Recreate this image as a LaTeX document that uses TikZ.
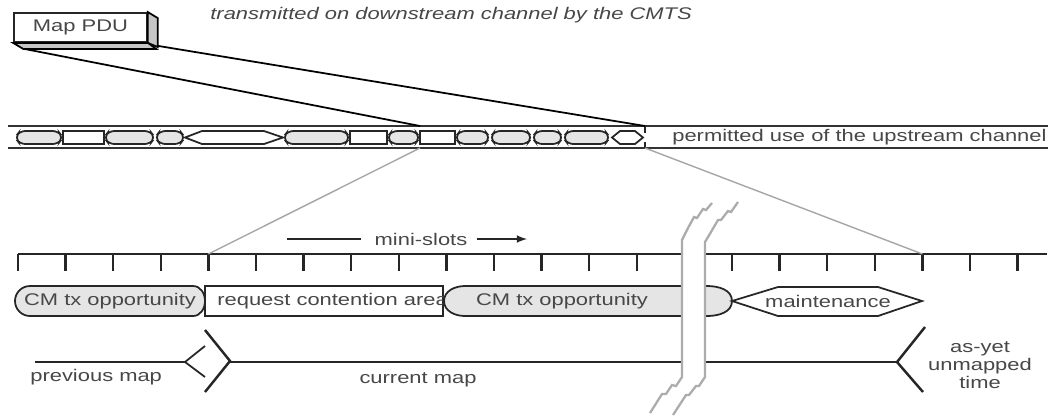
\documentclass[tikz,border=0pt]{standalone}
\usepackage{fontspec}
\setmainfont[FakeStretch=1.3]{Liberation Sans}
\usetikzlibrary{arrows,calc,positioning}

\tikzset{
  lbl/.style={font=\fontsize{9.6}{10.2}\selectfont, text=black!72, inner sep=0pt},
  chanline/.style={black!80, line width=1.3pt},
  slotline/.style={black!85, line width=1pt},
  greyslot/.style={slotline, fill=gray!20},
  whiteslot/.style={slotline, fill=white},
  tickline/.style={black!85, line width=1.4pt},
  zoomline/.style={gray!70, line width=0.8pt},
  breakline/.style={gray!65, line width=1.3pt},
}

\begin{document}
\begin{tikzpicture}[x=0.02cm,y=-0.02cm]
       \useasboundingbox (0,0) rectangle (1057,417);
       % Map PDU block
       \node[draw=black!85,line width=1pt,fill=white,minimum width=2.66cm,minimum height=0.58cm,lbl] (pdu) at (80.5,27.5) {Map PDU};
       \draw[line width=1pt,fill=gray!45] (pdu.north east) -- ++(10,6) -- ++(0,29) -- (pdu.south east) -- cycle;
       \draw[line width=1pt,fill=gray!45] (pdu.south west) -- ++(10,6) -- ++(133,0) -- (pdu.south east) -- cycle;
       \node[lbl,font=\fontsize{9.6}{10.2}\selectfont\itshape,anchor=west] (txt) at (210,15) {transmitted on downstream channel by the CMTS};
       \coordinate (pduL) at ($(pdu.south west)+(11,6)$);
       \coordinate (pduR) at ($(pdu.south east)+(10,3)$);
       % upstream channel
       \draw[chanline] (8,126) -- (1048,126);
       \draw[chanline] (8,148) -- (1048,148);
       \foreach \a/\b in {63/104,350/387,420/455}
         \draw[whiteslot] (\a,131) rectangle (\b,144);
       \foreach \a/\b in {15/63,104/155,155/185,283/350,387/420,455/490,490/532,532/563,563/610}
         \draw[greyslot,rounded corners=3pt] (\a,137.5) -- (\a+5,131) -- (\b-5,131) -- (\b,137.5) -- (\b-5,144) -- (\a+5,144) -- cycle;
       \draw[whiteslot] (185,137.5) -- (202,131) -- (264,131) -- (283,137.5) -- (264,144) -- (202,144) -- cycle;
       \draw[whiteslot] (612,137.5) -- (620,131) -- (635,131) -- (643,137.5) -- (635,144) -- (620,144) -- cycle;
       \draw[slotline] (645,126) -- (645,133) (645,142) -- (645,148);
       \node[lbl,anchor=west] (perm) at (672,137.5) {permitted use of the upstream channel};
       \coordinate (reqT) at (420,126);
       \coordinate (reqB) at (420,148);
       \coordinate (endT) at (645,126);
       \coordinate (endB) at (645,148);
       \draw[line width=1pt] (pduL) -- (reqT);
       \draw[line width=1pt] (pduR) -- (endT);
       % mini-slot scale
       \draw[slotline] (18,254) -- (1047,254);
       \foreach \k in {0,...,21}
         \coordinate (t\k) at (18+47.6*\k,254);
       \foreach \k in {0,...,21}
         \draw[tickline] (t\k) -- ++(0,17);
       \draw[zoomline] (reqB) -- (t4);
       \draw[zoomline] (endB) -- (t19);
       \node[lbl] (mini) at (421,239) {mini-slots};
       \coordinate (msL) at (287,239);
       \coordinate (msR) at (527,239);
       \draw[slotline] (msL) -- ($(mini.west)+(-13,0)$);
       \draw[slotline,-latex] ($(mini.east)+(9,0)$) -- (msR);
       % map contents
       \draw[greyslot] (30,286) -- (193,286) to[out=0,in=90] (205,301) to[out=-90,in=0] (193,316) -- (30,316) to[out=180,in=-90] (15,301) to[out=90,in=180] (30,286) -- cycle;
       \node[lbl] (cm1) at (110,301) {CM tx opportunity};
       \draw[whiteslot] (205,286) rectangle (443,316);
       \node[lbl,anchor=west] (req) at (217,301) {request contention area};
       \draw[greyslot] (465,286) -- (707,286) to[out=0,in=90] (732,301) to[out=-90,in=0] (707,316) -- (465,316) to[out=180,in=-90] (444,301) to[out=90,in=180] (465,286) -- cycle;
       \node[lbl] (cm2) at (562,301) {CM tx opportunity};
       \draw[whiteslot] (732,301) -- (778,287) -- (878,287) -- (922,301) -- (878,316) -- (778,316) -- cycle;
       \node[lbl] (maint) at (828,301) {maintenance};
       % map boundaries
       \draw[slotline] (35,362) -- (185,362);
       \draw[slotline] (205,346) -- (185,362) -- (205,377);
       \draw[tickline] (205,330) -- (230,361) -- (205,392);
       \draw[slotline] (230,362) -- (897,362);
       \draw[tickline] (925,327) -- (897,362) -- (923,392);
       \node[lbl,anchor=west] (prev) at (30,377) {previous map};
       \node[lbl] (cur) at (418,380) {current map};
       \node[lbl,align=center] (yet) at (980,365) {as-yet\\unmapped\\time};
       % time break
       \fill[white] (712,203) -- (706,210) -- (703,209) -- (697,218) -- (694,217) -- (688,228) -- (682,240) -- (682,377) -- (676,386) -- (672,385) -- (666,394) -- (662,394) -- (650,413)
         -- (673,415) -- (686,395) -- (689,395) -- (696,386) -- (699,386) -- (705,377) -- (705,242) -- (711,232) -- (718,220) -- (721,220) -- (728,211) -- (731,212) -- (738,202) -- cycle;
       \draw[breakline] (712,203) -- (706,210) -- (703,209) -- (697,218) -- (694,217) -- (688,228) -- (682,240) -- (682,377) -- (676,386) -- (672,385) -- (666,394) -- (662,394) -- (650,413);
       \draw[breakline] (738,202) -- (731,212) -- (728,211) -- (721,220) -- (718,220) -- (711,232) -- (705,242) -- (705,377) -- (699,386) -- (696,386) -- (689,395) -- (686,395) -- (673,415);
     \end{tikzpicture}
\end{document}
